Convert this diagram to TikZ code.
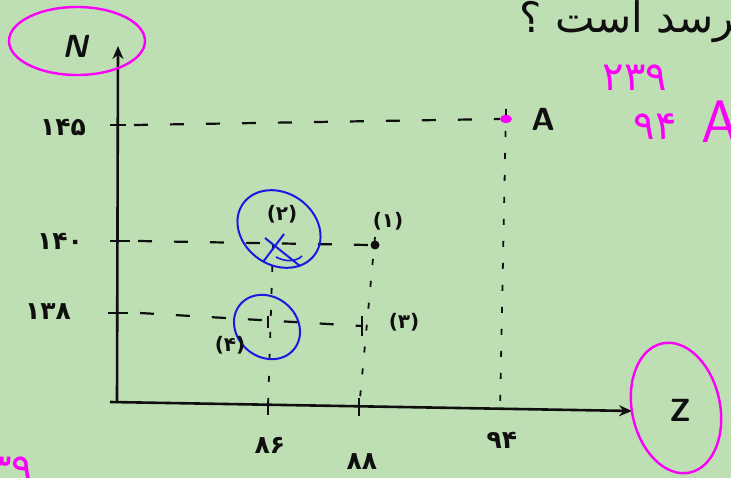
\documentclass[tikz,border=0pt]{standalone}
\usepackage{fontspec}
\newfontfamily\fa[Script=Arabic]{DejaVu Sans}
\TeXXeTstate=1
\usetikzlibrary{arrows.meta}
\definecolor{bg}{RGB}{190,222,180}
\definecolor{mag}{RGB}{250,0,250}
\definecolor{pen}{RGB}{25,25,225}
\definecolor{ink}{RGB}{15,15,15}
\begin{document}
\begin{tikzpicture}[x=1pt,y=-1pt,
  axis/.style={ink,line width=2.6pt,-{Stealth[length=13pt,width=11pt]}},
  guide/.style={ink,line width=2.2pt,dash pattern=on 14pt off 22pt},
  vguide/.style={ink,line width=1.8pt,dash pattern=on 6pt off 16pt},
  tickmark/.style={ink,line width=2pt},
  lab/.style={ink,font=\fa\bfseries\fontsize{25}{28}\selectfont,inner sep=0pt},
  plab/.style={ink,font=\fa\bfseries\fontsize{20}{22}\selectfont,inner sep=0pt},
  latin/.style={ink,font=\sffamily\bfseries\fontsize{32}{34}\selectfont,inner sep=0pt},
  magring/.style={mag,line width=2.4pt},
  bluering/.style={pen,line width=2pt},
  magtext/.style={mag,inner sep=0pt,font=\fa\fontsize{40}{42}\selectfont}
]
\useasboundingbox (0,0) rectangle (731,478);
\fill[bg] (0,0) rectangle (731,478);
\clip (0,0) rectangle (731,478);

% axes
\coordinate (O) at (117,403);
\coordinate (ytop) at (118,46);
\coordinate (xstart) at (110,402);
\coordinate (xend) at (632,411);
\draw[axis] (O) -- (ytop);
\draw[axis] (xstart) -- (xend);

% y ticks
\coordinate (t145) at (118,125);
\coordinate (t140) at (118,241);
\coordinate (t138) at (118,313);
\draw[tickmark] (110,125) -- (126,125);
\draw[tickmark] (110,241) -- (130,241);
\draw[tickmark] (108,313) -- (128,313);

% points
\coordinate (A) at (506,119);
\coordinate (P1) at (375,245);
\coordinate (P2) at (273,244);
\coordinate (P3) at (362,326);
\coordinate (P4) at (268,321);
\coordinate (f86) at (268,408);
\coordinate (f88) at (359,409);
\coordinate (f94) at (500,410);

% guide lines
\draw[guide] ([xshift=16pt]t145) -- ([xshift=-6pt]A);
\draw[guide] ([xshift=20pt]t140) -- ([xshift=-6pt]P1);
\draw[guide] ([xshift=22pt]t138) -- (P3);
\draw[vguide] ([yshift=10pt]A) -- (f94);
\draw[vguide] ([yshift=8pt]P1) -- (f88);
\draw[vguide] (P2) -- (f86);

% x ticks
\draw[tickmark] (268,401) -- (268,415);
\draw[tickmark] (359,398) -- (359,416);
\draw[tickmark] (362,316) -- (362,336);
\draw[tickmark] (268,316) -- (268,328);

% markers
\fill[mag] (A) ellipse (6pt and 4pt);
\fill[ink] (P1) circle (4.5pt);
\draw[pen,line width=2pt] (265,238) -- (300,266);
\draw[pen,line width=2pt] (284,234) -- (263,262);
\draw[pen,line width=1.6pt] (276,257) .. controls (285,262) and (296,262) .. (302,256);

% rings
\draw[magring] (77,41) ellipse (68pt and 34pt);
\draw[magring, rotate around={12:(676,408)}] (676,408) ellipse (44pt and 66pt);
\draw[bluering, rotate around={-35:(279,229)}] (279,229) ellipse (44pt and 36pt);
\draw[bluering, rotate around={-40:(267,327)}] (267,327) ellipse (35pt and 30pt);

% labels
\node[latin] (Nlab) at (75,46) {\itshape N};
\node[latin] (Alab) at (543,119) {A};
\node[latin] (Zlab) at (680,410) {Z};
\node[lab] (l145) at (63,127) {۱۴۵};
\node[lab] (l140) at (60,241) {۱۴۰};
\node[lab] (l138) at (48,312) {۱۳۸};
\node[lab] (l86) at (270,445) {۸۶};
\node[lab] (l88) at (362,462) {۸۸};
\node[lab] (l94) at (502,440) {۹۴};
\node[plab] (n1) at (388,221) {(۱)};
\node[plab] (n2) at (282,214) {(۲)};
\node[plab] (n3) at (404,322) {(۳)};
\node[plab] (n4) at (230,345) {(۴)};

% handwritten notes
\node[ink,inner sep=0pt,anchor=east,font=\fa\fontsize{42}{44}\selectfont] (q) at (750,22) {\beginR لرسد است ؟\endR};
\node[magtext] (m1) at (635,78) {۲۳۹};
\node[magtext] (m2) at (655,127) {۹۴};
\node[mag,inner sep=0pt,font=\sffamily\fontsize{60}{62}\selectfont] (m3) at (720,122) {A};
\node[magtext,anchor=west] (m4) at (-10,470) {۳۹};
\end{tikzpicture}
\end{document}
